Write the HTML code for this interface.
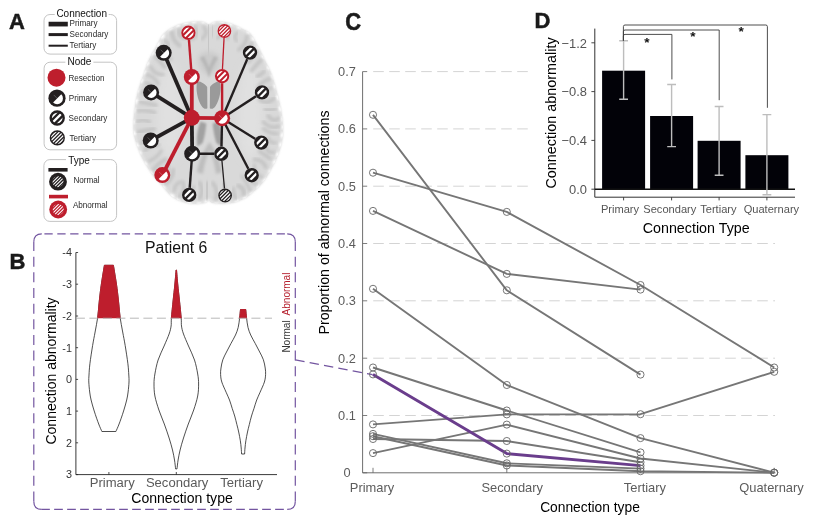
<!DOCTYPE html>
<html lang="en"><head><meta charset="utf-8"><title>Figure</title>
<style>html,body{margin:0;padding:0;background:#fff}body{width:826px;height:524px;overflow:hidden}svg{display:block;will-change:transform;transform:translateZ(0)}text{font-family:"Liberation Sans", Arial, Helvetica, sans-serif}.g{fill:#5a5a5a}.k{fill:#000}</style></head><body>
<svg width="826" height="524" viewBox="0 0 826 524">
<defs>
<filter id="b0" x="-5%" y="-5%" width="110%" height="110%"><feGaussianBlur stdDeviation="0.9"/></filter>
<filter id="b05" x="-20%" y="-20%" width="140%" height="140%"><feGaussianBlur stdDeviation="0.6"/></filter>
<filter id="b15" x="-30%" y="-30%" width="160%" height="160%"><feGaussianBlur stdDeviation="1.5"/></filter>
<filter id="b1" x="-20%" y="-20%" width="140%" height="140%"><feGaussianBlur stdDeviation="1.2"/></filter>
<filter id="b2" x="-20%" y="-20%" width="140%" height="140%"><feGaussianBlur stdDeviation="2.5"/></filter>
<filter id="b3" x="-20%" y="-20%" width="140%" height="140%"><feGaussianBlur stdDeviation="4"/></filter>
</defs>
<rect x="44.0" y="14.5" width="72.6" height="39.6" rx="6" ry="6" fill="none" stroke="#bdbdbd" stroke-width="0.9"/>
<rect x="54.7" y="12.5" width="54.0" height="4" fill="#fff"/>
<text x="81.7" y="16.9" font-size="10.00" text-anchor="middle" fill="#111" >Connection</text>
<line x1="48.6" y1="24.1" x2="67.8" y2="24.1" stroke="#231f20" stroke-width="4.7"/>
<line x1="48.6" y1="34.6" x2="67.8" y2="34.6" stroke="#231f20" stroke-width="3.0"/>
<line x1="48.6" y1="45.7" x2="67.8" y2="45.7" stroke="#231f20" stroke-width="2.0"/>
<text x="69.6" y="26.4" font-size="8.15" text-anchor="start" fill="#2a2a2a" >Primary</text>
<text x="69.6" y="37.2" font-size="8.15" text-anchor="start" fill="#2a2a2a" >Secondary</text>
<text x="69.6" y="48.3" font-size="8.15" text-anchor="start" fill="#2a2a2a" >Tertiary</text>
<rect x="44.1" y="62.2" width="72.5" height="87.6" rx="6" ry="6" fill="none" stroke="#bdbdbd" stroke-width="0.9"/>
<rect x="65.4" y="60.2" width="28.0" height="4" fill="#fff"/>
<text x="79.4" y="65.1" font-size="10.00" text-anchor="middle" fill="#111" >Node</text>
<circle cx="56.5" cy="77.7" r="9.00" fill="#be1e2d"/>
<circle cx="57.0" cy="98.2" r="8.60" fill="#231f20"/>
<path d="M61.25 94.30 A5.76 5.76 0 0 1 53.10 102.45 Z" fill="#fff"/>
<line x1="57.17" y1="98.37" x2="53.73" y2="94.93" stroke="#fff" stroke-width="0.4" stroke-opacity="0.6"/>
<circle cx="57.2" cy="118.0" r="7.70" fill="#fff"/>
<clipPath id="c3"><circle cx="57.2" cy="118.0" r="6.50"/></clipPath>
<g clip-path="url(#c3)" stroke="#231f20" stroke-width="2.35">
<line x1="37.34" y1="121.24" x2="60.44" y2="98.14"/>
<line x1="40.66" y1="124.56" x2="63.76" y2="101.46"/>
<line x1="43.99" y1="127.89" x2="67.09" y2="104.79"/>
<line x1="47.31" y1="131.21" x2="70.41" y2="108.11"/>
<line x1="50.64" y1="134.54" x2="73.74" y2="111.44"/>
<line x1="53.96" y1="137.86" x2="77.06" y2="114.76"/>
<line x1="57.28" y1="141.18" x2="80.38" y2="118.08"/>
</g>
<circle cx="57.2" cy="118.0" r="6.50" fill="none" stroke="#231f20" stroke-width="2.40"/>
<circle cx="57.3" cy="137.9" r="7.60" fill="#fff"/>
<clipPath id="c4"><circle cx="57.3" cy="137.9" r="6.90"/></clipPath>
<g clip-path="url(#c4)" stroke="#231f20" stroke-width="1.30">
<line x1="39.47" y1="142.87" x2="62.27" y2="120.07"/>
<line x1="41.30" y1="144.70" x2="64.10" y2="121.90"/>
<line x1="43.14" y1="146.54" x2="65.94" y2="123.74"/>
<line x1="44.98" y1="148.38" x2="67.78" y2="125.58"/>
<line x1="46.82" y1="150.22" x2="69.62" y2="127.42"/>
<line x1="48.66" y1="152.06" x2="71.46" y2="129.26"/>
<line x1="50.50" y1="153.90" x2="73.30" y2="131.10"/>
<line x1="52.33" y1="155.73" x2="75.13" y2="132.93"/>
<line x1="54.17" y1="157.57" x2="76.97" y2="134.77"/>
</g>
<circle cx="57.3" cy="137.9" r="6.90" fill="none" stroke="#231f20" stroke-width="1.40"/>
<text x="68.4" y="80.5" font-size="8.15" text-anchor="start" fill="#2a2a2a" >Resection</text>
<text x="68.8" y="101.3" font-size="8.15" text-anchor="start" fill="#2a2a2a" >Primary</text>
<text x="68.6" y="121.2" font-size="8.15" text-anchor="start" fill="#2a2a2a" >Secondary</text>
<text x="69.4" y="141.2" font-size="8.15" text-anchor="start" fill="#2a2a2a" >Tertiary</text>
<rect x="43.9" y="159.6" width="72.7" height="61.8" rx="6" ry="6" fill="none" stroke="#bdbdbd" stroke-width="0.9"/>
<rect x="66.0" y="157.6" width="26.0" height="4" fill="#fff"/>
<text x="79.0" y="163.6" font-size="10.00" text-anchor="middle" fill="#111" >Type</text>
<line x1="48.4" y1="169.8" x2="67.6" y2="169.8" stroke="#231f20" stroke-width="3.6"/>
<line x1="49.0" y1="196.6" x2="68.0" y2="196.6" stroke="#be1e2d" stroke-width="3.6"/>
<circle cx="58.0" cy="181.7" r="8.90" fill="#231f20"/>
<clipPath id="ty1"><circle cx="58.0" cy="181.7" r="5.50"/></clipPath>
<g clip-path="url(#ty1)" stroke="#fff" stroke-width="1.05">
<line x1="38.52" y1="186.22" x2="62.52" y2="162.22"/>
<line x1="40.18" y1="187.88" x2="64.18" y2="163.88"/>
<line x1="41.85" y1="189.55" x2="65.85" y2="165.55"/>
<line x1="43.51" y1="191.21" x2="67.51" y2="167.21"/>
<line x1="45.17" y1="192.87" x2="69.17" y2="168.87"/>
<line x1="46.83" y1="194.53" x2="70.83" y2="170.53"/>
<line x1="48.49" y1="196.19" x2="72.49" y2="172.19"/>
<line x1="50.15" y1="197.85" x2="74.15" y2="173.85"/>
<line x1="51.82" y1="199.52" x2="75.82" y2="175.52"/>
<line x1="53.48" y1="201.18" x2="77.48" y2="177.18"/>
<line x1="55.14" y1="202.84" x2="79.14" y2="178.84"/>
</g>
<circle cx="58.2" cy="209.5" r="8.90" fill="#be1e2d"/>
<clipPath id="ty2"><circle cx="58.2" cy="209.5" r="5.50"/></clipPath>
<g clip-path="url(#ty2)" stroke="#fff" stroke-width="1.05">
<line x1="38.72" y1="214.02" x2="62.72" y2="190.02"/>
<line x1="40.38" y1="215.68" x2="64.38" y2="191.68"/>
<line x1="42.05" y1="217.35" x2="66.05" y2="193.35"/>
<line x1="43.71" y1="219.01" x2="67.71" y2="195.01"/>
<line x1="45.37" y1="220.67" x2="69.37" y2="196.67"/>
<line x1="47.03" y1="222.33" x2="71.03" y2="198.33"/>
<line x1="48.69" y1="223.99" x2="72.69" y2="199.99"/>
<line x1="50.35" y1="225.65" x2="74.35" y2="201.65"/>
<line x1="52.02" y1="227.32" x2="76.02" y2="203.32"/>
<line x1="53.68" y1="228.98" x2="77.68" y2="204.98"/>
<line x1="55.34" y1="230.64" x2="79.34" y2="206.64"/>
</g>
<text x="73.4" y="182.6" font-size="8.15" text-anchor="start" fill="#2a2a2a" >Normal</text>
<text x="72.9" y="207.9" font-size="8.15" text-anchor="start" fill="#2a2a2a" >Abnormal</text>
<clipPath id="brainclip"><path d="M208.90 24.60 C210.30 24.60 211.18 22.90 213.00 22.40 C214.82 21.90 216.80 21.37 219.80 21.60 C222.80 21.83 227.47 22.70 231.00 23.80 C234.53 24.90 237.78 26.53 241.00 28.20 C244.22 29.87 247.42 30.67 250.30 33.80 C253.18 36.93 255.88 42.60 258.30 47.00 C260.72 51.40 262.58 55.63 264.80 60.20 C267.02 64.77 269.53 68.87 271.60 74.40 C273.67 79.93 275.53 86.88 277.20 93.40 C278.87 99.92 280.63 107.40 281.60 113.50 C282.57 119.60 283.00 125.08 283.00 130.00 C283.00 134.92 282.73 138.12 281.60 143.00 C280.47 147.88 278.63 153.72 276.20 159.30 C273.77 164.88 269.62 172.22 267.00 176.50 C264.38 180.78 262.92 182.32 260.50 185.00 C258.08 187.68 255.17 190.33 252.50 192.60 C249.83 194.87 247.42 197.00 244.50 198.60 C241.58 200.20 238.15 201.33 235.00 202.20 C231.85 203.07 228.77 203.57 225.60 203.80 C222.43 204.03 218.37 203.80 216.00 203.60 C213.63 203.40 212.63 203.17 211.40 202.60 C210.17 202.03 209.53 200.20 208.60 200.20 C207.67 200.20 207.23 202.03 205.80 202.60 C204.37 203.17 202.03 203.40 200.00 203.60 C197.97 203.80 196.10 204.00 193.60 203.80 C191.10 203.60 187.90 203.15 185.00 202.40 C182.10 201.65 178.95 200.83 176.20 199.30 C173.45 197.77 170.93 195.58 168.50 193.20 C166.07 190.82 164.05 187.78 161.60 185.00 C159.15 182.22 156.92 180.78 153.80 176.50 C150.68 172.22 145.87 165.02 142.90 159.30 C139.93 153.58 137.55 147.08 136.00 142.20 C134.45 137.32 133.90 134.78 133.60 130.00 C133.30 125.22 133.53 119.67 134.20 113.50 C134.87 107.33 136.00 99.58 137.60 93.00 C139.20 86.42 142.00 79.33 143.80 74.00 C145.60 68.67 146.37 65.50 148.40 61.00 C150.43 56.50 153.43 51.53 156.00 47.00 C158.57 42.47 160.50 37.30 163.80 33.80 C167.10 30.30 171.77 27.90 175.80 26.00 C179.83 24.10 184.30 23.13 188.00 22.40 C191.70 21.67 195.23 21.60 198.00 21.60 C200.77 21.60 202.78 21.90 204.60 22.40 C206.42 22.90 207.50 24.60 208.90 24.60 Z"/></clipPath>
<path d="M208.90 24.60 C210.30 24.60 211.18 22.90 213.00 22.40 C214.82 21.90 216.80 21.37 219.80 21.60 C222.80 21.83 227.47 22.70 231.00 23.80 C234.53 24.90 237.78 26.53 241.00 28.20 C244.22 29.87 247.42 30.67 250.30 33.80 C253.18 36.93 255.88 42.60 258.30 47.00 C260.72 51.40 262.58 55.63 264.80 60.20 C267.02 64.77 269.53 68.87 271.60 74.40 C273.67 79.93 275.53 86.88 277.20 93.40 C278.87 99.92 280.63 107.40 281.60 113.50 C282.57 119.60 283.00 125.08 283.00 130.00 C283.00 134.92 282.73 138.12 281.60 143.00 C280.47 147.88 278.63 153.72 276.20 159.30 C273.77 164.88 269.62 172.22 267.00 176.50 C264.38 180.78 262.92 182.32 260.50 185.00 C258.08 187.68 255.17 190.33 252.50 192.60 C249.83 194.87 247.42 197.00 244.50 198.60 C241.58 200.20 238.15 201.33 235.00 202.20 C231.85 203.07 228.77 203.57 225.60 203.80 C222.43 204.03 218.37 203.80 216.00 203.60 C213.63 203.40 212.63 203.17 211.40 202.60 C210.17 202.03 209.53 200.20 208.60 200.20 C207.67 200.20 207.23 202.03 205.80 202.60 C204.37 203.17 202.03 203.40 200.00 203.60 C197.97 203.80 196.10 204.00 193.60 203.80 C191.10 203.60 187.90 203.15 185.00 202.40 C182.10 201.65 178.95 200.83 176.20 199.30 C173.45 197.77 170.93 195.58 168.50 193.20 C166.07 190.82 164.05 187.78 161.60 185.00 C159.15 182.22 156.92 180.78 153.80 176.50 C150.68 172.22 145.87 165.02 142.90 159.30 C139.93 153.58 137.55 147.08 136.00 142.20 C134.45 137.32 133.90 134.78 133.60 130.00 C133.30 125.22 133.53 119.67 134.20 113.50 C134.87 107.33 136.00 99.58 137.60 93.00 C139.20 86.42 142.00 79.33 143.80 74.00 C145.60 68.67 146.37 65.50 148.40 61.00 C150.43 56.50 153.43 51.53 156.00 47.00 C158.57 42.47 160.50 37.30 163.80 33.80 C167.10 30.30 171.77 27.90 175.80 26.00 C179.83 24.10 184.30 23.13 188.00 22.40 C191.70 21.67 195.23 21.60 198.00 21.60 C200.77 21.60 202.78 21.90 204.60 22.40 C206.42 22.90 207.50 24.60 208.90 24.60 Z" fill="#d9d9d9" filter="url(#b0)"/>
<g clip-path="url(#brainclip)">
<path d="M208.90 24.60 C210.30 24.60 211.18 22.90 213.00 22.40 C214.82 21.90 216.80 21.37 219.80 21.60 C222.80 21.83 227.47 22.70 231.00 23.80 C234.53 24.90 237.78 26.53 241.00 28.20 C244.22 29.87 247.42 30.67 250.30 33.80 C253.18 36.93 255.88 42.60 258.30 47.00 C260.72 51.40 262.58 55.63 264.80 60.20 C267.02 64.77 269.53 68.87 271.60 74.40 C273.67 79.93 275.53 86.88 277.20 93.40 C278.87 99.92 280.63 107.40 281.60 113.50 C282.57 119.60 283.00 125.08 283.00 130.00 C283.00 134.92 282.73 138.12 281.60 143.00 C280.47 147.88 278.63 153.72 276.20 159.30 C273.77 164.88 269.62 172.22 267.00 176.50 C264.38 180.78 262.92 182.32 260.50 185.00 C258.08 187.68 255.17 190.33 252.50 192.60 C249.83 194.87 247.42 197.00 244.50 198.60 C241.58 200.20 238.15 201.33 235.00 202.20 C231.85 203.07 228.77 203.57 225.60 203.80 C222.43 204.03 218.37 203.80 216.00 203.60 C213.63 203.40 212.63 203.17 211.40 202.60 C210.17 202.03 209.53 200.20 208.60 200.20 C207.67 200.20 207.23 202.03 205.80 202.60 C204.37 203.17 202.03 203.40 200.00 203.60 C197.97 203.80 196.10 204.00 193.60 203.80 C191.10 203.60 187.90 203.15 185.00 202.40 C182.10 201.65 178.95 200.83 176.20 199.30 C173.45 197.77 170.93 195.58 168.50 193.20 C166.07 190.82 164.05 187.78 161.60 185.00 C159.15 182.22 156.92 180.78 153.80 176.50 C150.68 172.22 145.87 165.02 142.90 159.30 C139.93 153.58 137.55 147.08 136.00 142.20 C134.45 137.32 133.90 134.78 133.60 130.00 C133.30 125.22 133.53 119.67 134.20 113.50 C134.87 107.33 136.00 99.58 137.60 93.00 C139.20 86.42 142.00 79.33 143.80 74.00 C145.60 68.67 146.37 65.50 148.40 61.00 C150.43 56.50 153.43 51.53 156.00 47.00 C158.57 42.47 160.50 37.30 163.80 33.80 C167.10 30.30 171.77 27.90 175.80 26.00 C179.83 24.10 184.30 23.13 188.00 22.40 C191.70 21.67 195.23 21.60 198.00 21.60 C200.77 21.60 202.78 21.90 204.60 22.40 C206.42 22.90 207.50 24.60 208.90 24.60 Z" fill="none" stroke="#e3e3e3" stroke-width="4" filter="url(#b1)"/>
<ellipse cx="170" cy="112" rx="13" ry="48" fill="#e0e0e0" filter="url(#b3)"/>
<ellipse cx="250" cy="112" rx="13" ry="48" fill="#e0e0e0" filter="url(#b3)"/>
<circle cx="213.0" cy="21.8" r="1.9" fill="#fff" filter="url(#b1)"/>
<path d="M212.8 27.4 Q212.3 31.6 212.7 36.0" fill="none" stroke="#c4c4c4" stroke-width="3.3" stroke-linecap="round" filter="url(#b15)"/>
<circle cx="221.9" cy="21.4" r="2.2" fill="#fff" filter="url(#b1)"/>
<path d="M221.4 25.1 Q224.9 32.3 217.6 38.1" fill="none" stroke="#c4c4c4" stroke-width="2.9" stroke-linecap="round" filter="url(#b15)"/>
<circle cx="230.1" cy="23.0" r="2.5" fill="#fff" filter="url(#b1)"/>
<path d="M229.3 26.9 Q226.8 32.2 227.5 38.2" fill="none" stroke="#c4c4c4" stroke-width="4.1" stroke-linecap="round" filter="url(#b15)"/>
<circle cx="239.2" cy="26.7" r="2.1" fill="#fff" filter="url(#b1)"/>
<path d="M237.2 33.0 Q232.6 35.4 236.5 40.6" fill="none" stroke="#c4c4c4" stroke-width="3.2" stroke-linecap="round" filter="url(#b15)"/>
<circle cx="248.7" cy="32.1" r="1.9" fill="#fff" filter="url(#b1)"/>
<path d="M246.8 36.2 Q246.4 44.7 238.8 49.7" fill="none" stroke="#c4c4c4" stroke-width="3.6" stroke-linecap="round" filter="url(#b15)"/>
<circle cx="253.8" cy="38.6" r="2.1" fill="#fff" filter="url(#b1)"/>
<path d="M251.2 43.1 Q252.9 49.1 244.9 49.7" fill="none" stroke="#c4c4c4" stroke-width="3.1" stroke-linecap="round" filter="url(#b15)"/>
<circle cx="259.1" cy="47.5" r="2.1" fill="#fff" filter="url(#b1)"/>
<path d="M256.5 51.1 Q252.8 57.0 248.3 62.2" fill="none" stroke="#c4c4c4" stroke-width="3.2" stroke-linecap="round" filter="url(#b15)"/>
<circle cx="263.8" cy="56.9" r="2.4" fill="#fff" filter="url(#b1)"/>
<path d="M260.9 60.1 Q256.0 65.1 251.7 70.5" fill="none" stroke="#c4c4c4" stroke-width="4.0" stroke-linecap="round" filter="url(#b15)"/>
<circle cx="268.9" cy="67.4" r="2.0" fill="#fff" filter="url(#b1)"/>
<path d="M263.8 71.6 Q261.3 74.7 257.4 76.3" fill="none" stroke="#c4c4c4" stroke-width="3.9" stroke-linecap="round" filter="url(#b15)"/>
<circle cx="273.0" cy="77.1" r="2.2" fill="#fff" filter="url(#b1)"/>
<path d="M269.8 79.0 Q262.0 80.8 257.6 88.2" fill="none" stroke="#c4c4c4" stroke-width="3.6" stroke-linecap="round" filter="url(#b15)"/>
<circle cx="275.7" cy="86.2" r="2.1" fill="#fff" filter="url(#b1)"/>
<path d="M270.5 88.5 Q264.4 90.4 259.1 94.1" fill="none" stroke="#c4c4c4" stroke-width="3.4" stroke-linecap="round" filter="url(#b15)"/>
<circle cx="278.7" cy="97.3" r="2.6" fill="#fff" filter="url(#b1)"/>
<path d="M273.8 98.6 Q268.3 104.7 259.8 100.1" fill="none" stroke="#c4c4c4" stroke-width="3.8" stroke-linecap="round" filter="url(#b15)"/>
<circle cx="281.1" cy="108.4" r="2.6" fill="#fff" filter="url(#b1)"/>
<path d="M275.1 109.1 Q270.3 110.7 265.2 109.5" fill="none" stroke="#c4c4c4" stroke-width="3.7" stroke-linecap="round" filter="url(#b15)"/>
<circle cx="282.6" cy="118.7" r="2.2" fill="#fff" filter="url(#b1)"/>
<path d="M278.5 118.5 Q273.2 122.7 268.2 115.9" fill="none" stroke="#c4c4c4" stroke-width="3.9" stroke-linecap="round" filter="url(#b15)"/>
<circle cx="283.3" cy="127.0" r="2.0" fill="#fff" filter="url(#b1)"/>
<path d="M278.6 126.3 Q270.2 129.3 263.3 121.9" fill="none" stroke="#c4c4c4" stroke-width="3.4" stroke-linecap="round" filter="url(#b15)"/>
<circle cx="283.0" cy="135.2" r="2.5" fill="#fff" filter="url(#b1)"/>
<path d="M277.2 133.6 Q269.6 133.9 263.5 128.9" fill="none" stroke="#c4c4c4" stroke-width="3.4" stroke-linecap="round" filter="url(#b15)"/>
<circle cx="281.5" cy="145.1" r="2.5" fill="#fff" filter="url(#b1)"/>
<path d="M275.5 142.7 Q270.4 144.1 268.4 138.1" fill="none" stroke="#c4c4c4" stroke-width="3.1" stroke-linecap="round" filter="url(#b15)"/>
<circle cx="278.3" cy="154.8" r="2.2" fill="#fff" filter="url(#b1)"/>
<path d="M273.6 152.2 Q266.7 153.9 265.9 144.9" fill="none" stroke="#c4c4c4" stroke-width="3.4" stroke-linecap="round" filter="url(#b15)"/>
<circle cx="275.2" cy="162.4" r="2.3" fill="#fff" filter="url(#b1)"/>
<path d="M270.0 158.6 Q264.9 154.8 259.6 151.3" fill="none" stroke="#c4c4c4" stroke-width="3.7" stroke-linecap="round" filter="url(#b15)"/>
<circle cx="270.3" cy="171.5" r="1.8" fill="#fff" filter="url(#b1)"/>
<path d="M265.7 167.2 Q263.3 159.9 254.5 159.4" fill="none" stroke="#c4c4c4" stroke-width="3.9" stroke-linecap="round" filter="url(#b15)"/>
<circle cx="264.8" cy="180.4" r="2.1" fill="#fff" filter="url(#b1)"/>
<path d="M262.3 177.4 Q254.1 174.6 254.4 164.7" fill="none" stroke="#c4c4c4" stroke-width="2.9" stroke-linecap="round" filter="url(#b15)"/>
<circle cx="258.7" cy="187.6" r="1.9" fill="#fff" filter="url(#b1)"/>
<path d="M256.1 183.7 Q249.3 182.7 252.8 174.6" fill="none" stroke="#c4c4c4" stroke-width="3.0" stroke-linecap="round" filter="url(#b15)"/>
<circle cx="252.0" cy="193.7" r="2.1" fill="#fff" filter="url(#b1)"/>
<path d="M250.2 190.5 Q247.2 182.5 241.7 175.9" fill="none" stroke="#c4c4c4" stroke-width="3.0" stroke-linecap="round" filter="url(#b15)"/>
<circle cx="245.5" cy="198.6" r="2.1" fill="#fff" filter="url(#b1)"/>
<path d="M243.7 194.2 Q244.9 188.3 238.2 185.8" fill="none" stroke="#c4c4c4" stroke-width="4.2" stroke-linecap="round" filter="url(#b15)"/>
<circle cx="237.1" cy="202.1" r="2.2" fill="#fff" filter="url(#b1)"/>
<path d="M235.9 198.4 Q232.8 193.8 233.5 188.1" fill="none" stroke="#c4c4c4" stroke-width="3.2" stroke-linecap="round" filter="url(#b15)"/>
<circle cx="227.8" cy="204.0" r="1.9" fill="#fff" filter="url(#b1)"/>
<path d="M227.1 200.4 Q225.6 191.8 223.5 183.3" fill="none" stroke="#c4c4c4" stroke-width="3.0" stroke-linecap="round" filter="url(#b15)"/>
<circle cx="216.0" cy="204.2" r="1.8" fill="#fff" filter="url(#b1)"/>
<path d="M215.7 199.0 Q218.8 190.7 212.8 182.9" fill="none" stroke="#c4c4c4" stroke-width="3.8" stroke-linecap="round" filter="url(#b15)"/>
<circle cx="206.7" cy="202.4" r="2.1" fill="#fff" filter="url(#b1)"/>
<path d="M206.9 198.3 Q207.5 190.5 207.3 182.6" fill="none" stroke="#c4c4c4" stroke-width="3.9" stroke-linecap="round" filter="url(#b15)"/>
<circle cx="198.9" cy="204.2" r="2.0" fill="#fff" filter="url(#b1)"/>
<path d="M199.6 198.2 Q204.1 191.0 199.8 182.7" fill="none" stroke="#c4c4c4" stroke-width="3.9" stroke-linecap="round" filter="url(#b15)"/>
<circle cx="189.2" cy="203.7" r="2.4" fill="#fff" filter="url(#b1)"/>
<path d="M190.2 199.5 Q190.3 192.6 194.0 186.6" fill="none" stroke="#c4c4c4" stroke-width="2.8" stroke-linecap="round" filter="url(#b15)"/>
<circle cx="177.9" cy="200.5" r="2.0" fill="#fff" filter="url(#b1)"/>
<path d="M179.5 196.5 Q186.4 191.2 182.6 181.8" fill="none" stroke="#c4c4c4" stroke-width="3.4" stroke-linecap="round" filter="url(#b15)"/>
<circle cx="171.7" cy="196.5" r="2.6" fill="#fff" filter="url(#b1)"/>
<path d="M174.4 190.6 Q174.1 184.9 180.0 182.1" fill="none" stroke="#c4c4c4" stroke-width="3.1" stroke-linecap="round" filter="url(#b15)"/>
<circle cx="163.3" cy="188.0" r="2.0" fill="#fff" filter="url(#b1)"/>
<path d="M166.3 183.4 Q173.3 178.8 173.2 169.6" fill="none" stroke="#c4c4c4" stroke-width="3.5" stroke-linecap="round" filter="url(#b15)"/>
<circle cx="157.7" cy="181.6" r="2.4" fill="#fff" filter="url(#b1)"/>
<path d="M160.1 178.6 Q168.0 175.3 167.9 165.6" fill="none" stroke="#c4c4c4" stroke-width="3.9" stroke-linecap="round" filter="url(#b15)"/>
<circle cx="150.6" cy="172.6" r="2.2" fill="#fff" filter="url(#b1)"/>
<path d="M153.6 169.8 Q158.2 163.1 165.6 159.5" fill="none" stroke="#c4c4c4" stroke-width="3.9" stroke-linecap="round" filter="url(#b15)"/>
<circle cx="145.1" cy="164.0" r="2.1" fill="#fff" filter="url(#b1)"/>
<path d="M149.0 161.1 Q156.9 158.0 161.5 150.5" fill="none" stroke="#c4c4c4" stroke-width="3.0" stroke-linecap="round" filter="url(#b15)"/>
<circle cx="139.7" cy="152.9" r="1.9" fill="#fff" filter="url(#b1)"/>
<path d="M145.3 150.0 Q149.7 143.7 158.3 145.2" fill="none" stroke="#c4c4c4" stroke-width="4.0" stroke-linecap="round" filter="url(#b15)"/>
<circle cx="136.6" cy="145.3" r="2.3" fill="#fff" filter="url(#b1)"/>
<path d="M140.9 143.5 Q145.7 137.7 154.0 140.3" fill="none" stroke="#c4c4c4" stroke-width="2.8" stroke-linecap="round" filter="url(#b15)"/>
<circle cx="133.6" cy="133.2" r="2.3" fill="#fff" filter="url(#b1)"/>
<path d="M138.7 132.0 Q146.3 129.7 154.2 128.9" fill="none" stroke="#c4c4c4" stroke-width="4.0" stroke-linecap="round" filter="url(#b15)"/>
<circle cx="133.3" cy="121.8" r="2.0" fill="#fff" filter="url(#b1)"/>
<path d="M137.6 121.5 Q143.2 118.4 149.3 121.9" fill="none" stroke="#c4c4c4" stroke-width="3.6" stroke-linecap="round" filter="url(#b15)"/>
<circle cx="134.1" cy="110.4" r="2.1" fill="#fff" filter="url(#b1)"/>
<path d="M138.1 110.7 Q146.6 109.8 154.9 112.7" fill="none" stroke="#c4c4c4" stroke-width="3.4" stroke-linecap="round" filter="url(#b15)"/>
<circle cx="135.7" cy="101.1" r="2.5" fill="#fff" filter="url(#b1)"/>
<path d="M140.4 102.0 Q148.3 103.6 156.2 105.2" fill="none" stroke="#c4c4c4" stroke-width="3.5" stroke-linecap="round" filter="url(#b15)"/>
<circle cx="137.7" cy="90.8" r="1.8" fill="#fff" filter="url(#b1)"/>
<path d="M142.3 92.4 Q148.8 89.4 151.1 98.1" fill="none" stroke="#c4c4c4" stroke-width="3.9" stroke-linecap="round" filter="url(#b15)"/>
<circle cx="141.0" cy="80.7" r="2.2" fill="#fff" filter="url(#b1)"/>
<path d="M146.1 83.4 Q152.4 84.6 156.7 89.7" fill="none" stroke="#c4c4c4" stroke-width="3.5" stroke-linecap="round" filter="url(#b15)"/>
<circle cx="143.7" cy="72.7" r="2.4" fill="#fff" filter="url(#b1)"/>
<path d="M146.9 74.8 Q154.2 76.6 158.1 83.6" fill="none" stroke="#c4c4c4" stroke-width="3.2" stroke-linecap="round" filter="url(#b15)"/>
<circle cx="146.9" cy="63.6" r="2.2" fill="#fff" filter="url(#b1)"/>
<path d="M150.9 67.0 Q153.8 74.8 163.3 74.6" fill="none" stroke="#c4c4c4" stroke-width="3.4" stroke-linecap="round" filter="url(#b15)"/>
<circle cx="152.0" cy="53.1" r="2.2" fill="#fff" filter="url(#b1)"/>
<path d="M155.5 56.9 Q160.6 61.7 164.8 67.3" fill="none" stroke="#c4c4c4" stroke-width="3.5" stroke-linecap="round" filter="url(#b15)"/>
<circle cx="157.2" cy="43.9" r="2.6" fill="#fff" filter="url(#b1)"/>
<path d="M160.6 48.5 Q161.4 57.1 171.2 59.2" fill="none" stroke="#c4c4c4" stroke-width="3.2" stroke-linecap="round" filter="url(#b15)"/>
<circle cx="161.9" cy="35.9" r="2.6" fill="#fff" filter="url(#b1)"/>
<path d="M165.1 41.2 Q170.5 42.9 167.9 49.5" fill="none" stroke="#c4c4c4" stroke-width="3.4" stroke-linecap="round" filter="url(#b15)"/>
<circle cx="170.4" cy="28.8" r="2.0" fill="#fff" filter="url(#b1)"/>
<path d="M172.0 32.3 Q172.5 40.3 179.5 45.5" fill="none" stroke="#c4c4c4" stroke-width="4.1" stroke-linecap="round" filter="url(#b15)"/>
<circle cx="177.6" cy="24.8" r="2.4" fill="#fff" filter="url(#b1)"/>
<path d="M179.5 30.1 Q177.4 35.7 184.4 38.1" fill="none" stroke="#c4c4c4" stroke-width="4.2" stroke-linecap="round" filter="url(#b15)"/>
<circle cx="185.8" cy="22.4" r="2.6" fill="#fff" filter="url(#b1)"/>
<path d="M187.0 27.1 Q183.9 34.4 192.6 38.7" fill="none" stroke="#c4c4c4" stroke-width="4.0" stroke-linecap="round" filter="url(#b15)"/>
<circle cx="193.9" cy="21.3" r="2.1" fill="#fff" filter="url(#b1)"/>
<path d="M194.8 26.4 Q198.7 31.4 195.1 37.7" fill="none" stroke="#c4c4c4" stroke-width="3.2" stroke-linecap="round" filter="url(#b15)"/>
<circle cx="203.5" cy="21.7" r="1.8" fill="#fff" filter="url(#b1)"/>
<path d="M203.8 26.9 Q209.0 32.5 202.2 38.9" fill="none" stroke="#c4c4c4" stroke-width="3.3" stroke-linecap="round" filter="url(#b15)"/>
<path d="M208.9 22 L208.8 58" stroke="#bcbcbc" stroke-width="2.2" filter="url(#b1)"/>
<path d="M208.6 168 L208.6 204" stroke="#c0c0c0" stroke-width="2.2" filter="url(#b1)"/>
<path d="M199 56 C203 50 215 50 219 56 C222 64 216 74 209 75 C202 74 196 64 199 56 Z" fill="#cbcbcb" filter="url(#b2)"/>
<path d="M197.2 81.4 C200.5 81.0 205.4 84.4 207.2 87.0 L207.4 108.2 C205.6 109.6 203.2 108.6 201.6 106.0 C197.4 99.6 195.4 88.6 197.2 81.4 Z" fill="#9a9a9a" filter="url(#b05)"/>
<path d="M220.0 81.4 C216.7 81.0 211.8 84.4 210.0 87.0 L209.8 108.2 C211.6 109.6 214.0 108.6 215.6 106.0 C219.8 99.6 221.8 88.6 220.0 81.4 Z" fill="#9a9a9a" filter="url(#b05)"/>
<path d="M200.4 121.5 L206.4 123.5 C205.6 131 204.4 138 202.6 143 L197.4 146.5 C196 139 197.4 129 200.4 121.5 Z" fill="#a2a2a2" filter="url(#b1)"/>
<path d="M218.6 121.5 L212.6 123.5 C213.4 131 214.6 138 216.4 143 L221.6 146.5 C223 139 221.6 129 218.6 121.5 Z" fill="#a2a2a2" filter="url(#b1)"/>
<path d="M209.6 142 C204 150 199 160 197 172 L203 174 C204 164 207 156 209.6 150 C212 156 215 164 216 174 L222 172 C220 160 215 150 209.6 142 Z" fill="#bdbdbd" filter="url(#b15)"/>
<path d="M200 58 C204 64 207 70 209 78 C211 70 214 64 218 58 L214 56 C212 60 210 64 209 68 C208 64 206 60 204 56 Z" fill="#b8b8b8" filter="url(#b1)"/>
</g>
<line x1="191.8" y1="117.8" x2="163.7" y2="52.8" stroke="#231f20" stroke-width="3.80"/>
<line x1="191.8" y1="117.8" x2="151.1" y2="92.4" stroke="#231f20" stroke-width="3.80"/>
<line x1="191.8" y1="117.8" x2="150.7" y2="140.5" stroke="#231f20" stroke-width="3.80"/>
<line x1="191.8" y1="117.8" x2="192.2" y2="153.7" stroke="#231f20" stroke-width="3.80"/>
<line x1="222.1" y1="118.2" x2="250.0" y2="52.6" stroke="#231f20" stroke-width="2.40"/>
<line x1="222.1" y1="118.2" x2="262.0" y2="92.4" stroke="#231f20" stroke-width="2.40"/>
<line x1="222.1" y1="118.2" x2="261.3" y2="142.6" stroke="#231f20" stroke-width="2.40"/>
<line x1="222.1" y1="118.2" x2="251.7" y2="175.2" stroke="#231f20" stroke-width="2.40"/>
<line x1="222.1" y1="118.2" x2="221.3" y2="153.8" stroke="#231f20" stroke-width="2.40"/>
<line x1="192.2" y1="153.7" x2="221.3" y2="153.8" stroke="#231f20" stroke-width="2.40"/>
<line x1="192.2" y1="153.7" x2="189.2" y2="194.9" stroke="#231f20" stroke-width="2.40"/>
<line x1="221.3" y1="153.8" x2="225.1" y2="195.5" stroke="#231f20" stroke-width="1.30"/>
<line x1="191.8" y1="117.8" x2="162.3" y2="175.1" stroke="#be1e2d" stroke-width="3.80"/>
<line x1="191.8" y1="117.8" x2="191.8" y2="77.0" stroke="#be1e2d" stroke-width="3.80"/>
<line x1="191.8" y1="117.8" x2="222.1" y2="118.2" stroke="#be1e2d" stroke-width="3.80"/>
<line x1="191.8" y1="77.0" x2="188.4" y2="32.8" stroke="#be1e2d" stroke-width="2.40"/>
<line x1="222.1" y1="118.2" x2="222.1" y2="76.1" stroke="#be1e2d" stroke-width="2.40"/>
<line x1="222.1" y1="76.1" x2="224.4" y2="31.0" stroke="#be1e2d" stroke-width="1.30"/>
<circle cx="188.4" cy="32.8" r="7.20" fill="#fff"/>
<clipPath id="c5"><circle cx="188.4" cy="32.8" r="6.20"/></clipPath>
<g clip-path="url(#c5)" stroke="#be1e2d" stroke-width="2.05">
<line x1="170.35" y1="36.35" x2="191.95" y2="14.75"/>
<line x1="173.25" y1="39.25" x2="194.85" y2="17.65"/>
<line x1="176.15" y1="42.15" x2="197.75" y2="20.55"/>
<line x1="179.05" y1="45.05" x2="200.65" y2="23.45"/>
<line x1="181.95" y1="47.95" x2="203.55" y2="26.35"/>
<line x1="184.85" y1="50.85" x2="206.45" y2="29.25"/>
<line x1="187.75" y1="53.75" x2="209.35" y2="32.15"/>
</g>
<circle cx="188.4" cy="32.8" r="6.20" fill="none" stroke="#be1e2d" stroke-width="2.00"/>
<circle cx="224.4" cy="31.0" r="6.90" fill="#fff"/>
<clipPath id="c6"><circle cx="224.4" cy="31.0" r="6.20"/></clipPath>
<g clip-path="url(#c6)" stroke="#be1e2d" stroke-width="1.30">
<line x1="207.62" y1="34.92" x2="228.32" y2="14.22"/>
<line x1="209.45" y1="36.75" x2="230.15" y2="16.05"/>
<line x1="211.29" y1="38.59" x2="231.99" y2="17.89"/>
<line x1="213.13" y1="40.43" x2="233.83" y2="19.73"/>
<line x1="214.97" y1="42.27" x2="235.67" y2="21.57"/>
<line x1="216.81" y1="44.11" x2="237.51" y2="23.41"/>
<line x1="218.65" y1="45.95" x2="239.35" y2="25.25"/>
<line x1="220.48" y1="47.78" x2="241.18" y2="27.08"/>
<line x1="222.32" y1="49.62" x2="243.02" y2="28.92"/>
</g>
<circle cx="224.4" cy="31.0" r="6.20" fill="none" stroke="#be1e2d" stroke-width="1.40"/>
<circle cx="163.7" cy="52.8" r="8.00" fill="#231f20"/>
<path d="M167.65 49.17 A5.36 5.36 0 0 1 160.07 56.75 Z" fill="#fff"/>
<line x1="163.86" y1="52.96" x2="160.66" y2="49.76" stroke="#fff" stroke-width="0.4" stroke-opacity="0.6"/>
<circle cx="250.0" cy="52.6" r="7.20" fill="#fff"/>
<clipPath id="c8"><circle cx="250.0" cy="52.6" r="6.00"/></clipPath>
<g clip-path="url(#c8)" stroke="#231f20" stroke-width="2.40">
<line x1="229.23" y1="53.43" x2="250.83" y2="31.83"/>
<line x1="232.55" y1="56.75" x2="254.15" y2="35.15"/>
<line x1="235.88" y1="60.08" x2="257.48" y2="38.48"/>
<line x1="239.20" y1="63.40" x2="260.80" y2="41.80"/>
<line x1="242.52" y1="66.72" x2="264.12" y2="45.12"/>
<line x1="245.85" y1="70.05" x2="267.45" y2="48.45"/>
<line x1="249.17" y1="73.37" x2="270.77" y2="51.77"/>
</g>
<circle cx="250.0" cy="52.6" r="6.00" fill="none" stroke="#231f20" stroke-width="2.40"/>
<circle cx="191.8" cy="77.0" r="8.00" fill="#be1e2d"/>
<path d="M195.75 73.37 A5.36 5.36 0 0 1 188.17 80.95 Z" fill="#fff"/>
<line x1="191.96" y1="77.16" x2="188.76" y2="73.96" stroke="#fff" stroke-width="0.4" stroke-opacity="0.6"/>
<circle cx="222.1" cy="76.1" r="7.20" fill="#fff"/>
<clipPath id="c10"><circle cx="222.1" cy="76.1" r="6.20"/></clipPath>
<g clip-path="url(#c10)" stroke="#be1e2d" stroke-width="2.05">
<line x1="204.05" y1="79.65" x2="225.65" y2="58.05"/>
<line x1="206.95" y1="82.55" x2="228.55" y2="60.95"/>
<line x1="209.85" y1="85.45" x2="231.45" y2="63.85"/>
<line x1="212.75" y1="88.35" x2="234.35" y2="66.75"/>
<line x1="215.65" y1="91.25" x2="237.25" y2="69.65"/>
<line x1="218.55" y1="94.15" x2="240.15" y2="72.55"/>
<line x1="221.45" y1="97.05" x2="243.05" y2="75.45"/>
</g>
<circle cx="222.1" cy="76.1" r="6.20" fill="none" stroke="#be1e2d" stroke-width="2.00"/>
<circle cx="151.1" cy="92.4" r="8.00" fill="#231f20"/>
<path d="M155.05 88.77 A5.36 5.36 0 0 1 147.47 96.35 Z" fill="#fff"/>
<line x1="151.26" y1="92.56" x2="148.06" y2="89.36" stroke="#fff" stroke-width="0.4" stroke-opacity="0.6"/>
<circle cx="262.0" cy="92.4" r="7.20" fill="#fff"/>
<clipPath id="c12"><circle cx="262.0" cy="92.4" r="6.00"/></clipPath>
<g clip-path="url(#c12)" stroke="#231f20" stroke-width="2.40">
<line x1="241.23" y1="93.23" x2="262.83" y2="71.63"/>
<line x1="244.55" y1="96.55" x2="266.15" y2="74.95"/>
<line x1="247.88" y1="99.88" x2="269.48" y2="78.28"/>
<line x1="251.20" y1="103.20" x2="272.80" y2="81.60"/>
<line x1="254.52" y1="106.52" x2="276.12" y2="84.92"/>
<line x1="257.85" y1="109.85" x2="279.45" y2="88.25"/>
<line x1="261.17" y1="113.17" x2="282.77" y2="91.57"/>
</g>
<circle cx="262.0" cy="92.4" r="6.00" fill="none" stroke="#231f20" stroke-width="2.40"/>
<circle cx="222.1" cy="118.2" r="8.00" fill="#be1e2d"/>
<path d="M226.05 114.57 A5.36 5.36 0 0 1 218.47 122.15 Z" fill="#fff"/>
<line x1="222.26" y1="118.36" x2="219.06" y2="115.16" stroke="#fff" stroke-width="0.4" stroke-opacity="0.6"/>
<circle cx="191.8" cy="117.8" r="8.0" fill="#be1e2d"/>
<circle cx="150.7" cy="140.5" r="8.00" fill="#231f20"/>
<path d="M154.65 136.87 A5.36 5.36 0 0 1 147.07 144.45 Z" fill="#fff"/>
<line x1="150.86" y1="140.66" x2="147.66" y2="137.46" stroke="#fff" stroke-width="0.4" stroke-opacity="0.6"/>
<circle cx="261.3" cy="142.6" r="7.20" fill="#fff"/>
<clipPath id="c16"><circle cx="261.3" cy="142.6" r="6.00"/></clipPath>
<g clip-path="url(#c16)" stroke="#231f20" stroke-width="2.40">
<line x1="240.53" y1="143.43" x2="262.13" y2="121.83"/>
<line x1="243.85" y1="146.75" x2="265.45" y2="125.15"/>
<line x1="247.18" y1="150.08" x2="268.78" y2="128.48"/>
<line x1="250.50" y1="153.40" x2="272.10" y2="131.80"/>
<line x1="253.82" y1="156.72" x2="275.42" y2="135.12"/>
<line x1="257.15" y1="160.05" x2="278.75" y2="138.45"/>
<line x1="260.47" y1="163.37" x2="282.07" y2="141.77"/>
</g>
<circle cx="261.3" cy="142.6" r="6.00" fill="none" stroke="#231f20" stroke-width="2.40"/>
<circle cx="192.2" cy="153.7" r="8.00" fill="#231f20"/>
<path d="M196.15 150.07 A5.36 5.36 0 0 1 188.57 157.65 Z" fill="#fff"/>
<line x1="192.36" y1="153.86" x2="189.16" y2="150.66" stroke="#fff" stroke-width="0.4" stroke-opacity="0.6"/>
<circle cx="221.3" cy="153.8" r="7.20" fill="#fff"/>
<clipPath id="c18"><circle cx="221.3" cy="153.8" r="6.00"/></clipPath>
<g clip-path="url(#c18)" stroke="#231f20" stroke-width="2.40">
<line x1="200.53" y1="154.63" x2="222.13" y2="133.03"/>
<line x1="203.85" y1="157.95" x2="225.45" y2="136.35"/>
<line x1="207.18" y1="161.28" x2="228.78" y2="139.68"/>
<line x1="210.50" y1="164.60" x2="232.10" y2="143.00"/>
<line x1="213.82" y1="167.92" x2="235.42" y2="146.32"/>
<line x1="217.15" y1="171.25" x2="238.75" y2="149.65"/>
<line x1="220.47" y1="174.57" x2="242.07" y2="152.97"/>
</g>
<circle cx="221.3" cy="153.8" r="6.00" fill="none" stroke="#231f20" stroke-width="2.40"/>
<circle cx="162.3" cy="175.1" r="8.00" fill="#be1e2d"/>
<path d="M166.25 171.47 A5.36 5.36 0 0 1 158.67 179.05 Z" fill="#fff"/>
<line x1="162.46" y1="175.26" x2="159.26" y2="172.06" stroke="#fff" stroke-width="0.4" stroke-opacity="0.6"/>
<circle cx="251.7" cy="175.2" r="7.20" fill="#fff"/>
<clipPath id="c20"><circle cx="251.7" cy="175.2" r="6.00"/></clipPath>
<g clip-path="url(#c20)" stroke="#231f20" stroke-width="2.40">
<line x1="230.93" y1="176.03" x2="252.53" y2="154.43"/>
<line x1="234.25" y1="179.35" x2="255.85" y2="157.75"/>
<line x1="237.58" y1="182.68" x2="259.18" y2="161.08"/>
<line x1="240.90" y1="186.00" x2="262.50" y2="164.40"/>
<line x1="244.22" y1="189.32" x2="265.82" y2="167.72"/>
<line x1="247.55" y1="192.65" x2="269.15" y2="171.05"/>
<line x1="250.87" y1="195.97" x2="272.47" y2="174.37"/>
</g>
<circle cx="251.7" cy="175.2" r="6.00" fill="none" stroke="#231f20" stroke-width="2.40"/>
<circle cx="189.2" cy="194.9" r="7.20" fill="#fff"/>
<clipPath id="c21"><circle cx="189.2" cy="194.9" r="6.00"/></clipPath>
<g clip-path="url(#c21)" stroke="#231f20" stroke-width="2.40">
<line x1="168.43" y1="195.73" x2="190.03" y2="174.13"/>
<line x1="171.75" y1="199.05" x2="193.35" y2="177.45"/>
<line x1="175.08" y1="202.38" x2="196.68" y2="180.78"/>
<line x1="178.40" y1="205.70" x2="200.00" y2="184.10"/>
<line x1="181.72" y1="209.02" x2="203.32" y2="187.42"/>
<line x1="185.05" y1="212.35" x2="206.65" y2="190.75"/>
<line x1="188.37" y1="215.67" x2="209.97" y2="194.07"/>
</g>
<circle cx="189.2" cy="194.9" r="6.00" fill="none" stroke="#231f20" stroke-width="2.40"/>
<circle cx="225.1" cy="195.5" r="6.90" fill="#fff"/>
<clipPath id="c22"><circle cx="225.1" cy="195.5" r="6.20"/></clipPath>
<g clip-path="url(#c22)" stroke="#231f20" stroke-width="1.30">
<line x1="208.32" y1="199.42" x2="229.02" y2="178.72"/>
<line x1="210.15" y1="201.25" x2="230.85" y2="180.55"/>
<line x1="211.99" y1="203.09" x2="232.69" y2="182.39"/>
<line x1="213.83" y1="204.93" x2="234.53" y2="184.23"/>
<line x1="215.67" y1="206.77" x2="236.37" y2="186.07"/>
<line x1="217.51" y1="208.61" x2="238.21" y2="187.91"/>
<line x1="219.35" y1="210.45" x2="240.05" y2="189.75"/>
<line x1="221.18" y1="212.28" x2="241.88" y2="191.58"/>
<line x1="223.02" y1="214.12" x2="243.72" y2="193.42"/>
</g>
<circle cx="225.1" cy="195.5" r="6.20" fill="none" stroke="#231f20" stroke-width="1.40"/>
<path d="M41.8 233.8 H287.2" fill="none" stroke="#7355a0" stroke-width="1.2" stroke-dasharray="8.3 4.6" stroke-dashoffset="10.3"/>
<path d="M41.8 509.4 H287.2" fill="none" stroke="#7355a0" stroke-width="1.2" stroke-dasharray="8.7 4.3" stroke-dashoffset="0.65"/>
<path d="M33.8 241.8 V501.4" fill="none" stroke="#7355a0" stroke-width="1.2" stroke-dasharray="10 5.65" stroke-dashoffset="0.75"/>
<path d="M295.3 241.8 V501.4" fill="none" stroke="#7355a0" stroke-width="1.2" stroke-dasharray="10 5.65" stroke-dashoffset="0.75"/>
<path d="M33.8 241.8 Q33.8 233.8 41.8 233.8 M287.2 233.8 Q295.3 233.8 295.3 241.8 M295.3 501.4 Q295.3 509.4 287.2 509.4 M41.8 509.4 Q33.8 509.4 33.8 501.4" fill="none" stroke="#7355a0" stroke-width="1.2"/>
<path d="M295.3 359.9 L372.6 374.6" fill="none" stroke="#7355a0" stroke-width="1.2" stroke-dasharray="9.4 5.2" stroke-dashoffset="0"/>
<path d="M75.9 252.5 L75.9 474.6 L277.0 474.6" fill="none" stroke="#222" stroke-width="0.9"/>
<line x1="75.9" y1="252.5" x2="78.1" y2="252.5" stroke="#222" stroke-width="0.8"/>
<text x="71.9" y="256.3" font-size="10.80" text-anchor="end" fill="#333" >-4</text>
<line x1="75.9" y1="284.2" x2="78.1" y2="284.2" stroke="#222" stroke-width="0.8"/>
<text x="71.9" y="288.0" font-size="10.80" text-anchor="end" fill="#333" >-3</text>
<line x1="75.9" y1="316.0" x2="78.1" y2="316.0" stroke="#222" stroke-width="0.8"/>
<text x="71.9" y="319.8" font-size="10.80" text-anchor="end" fill="#333" >-2</text>
<line x1="75.9" y1="347.7" x2="78.1" y2="347.7" stroke="#222" stroke-width="0.8"/>
<text x="71.9" y="351.5" font-size="10.80" text-anchor="end" fill="#333" >-1</text>
<line x1="75.9" y1="379.4" x2="78.1" y2="379.4" stroke="#222" stroke-width="0.8"/>
<text x="71.9" y="383.2" font-size="10.80" text-anchor="end" fill="#333" >0</text>
<line x1="75.9" y1="411.1" x2="78.1" y2="411.1" stroke="#222" stroke-width="0.8"/>
<text x="71.9" y="414.9" font-size="10.80" text-anchor="end" fill="#333" >1</text>
<line x1="75.9" y1="442.8" x2="78.1" y2="442.8" stroke="#222" stroke-width="0.8"/>
<text x="71.9" y="446.6" font-size="10.80" text-anchor="end" fill="#333" >2</text>
<line x1="75.9" y1="474.6" x2="78.1" y2="474.6" stroke="#222" stroke-width="0.8"/>
<text x="71.9" y="478.4" font-size="10.80" text-anchor="end" fill="#333" >3</text>
<line x1="108.9" y1="474.6" x2="108.9" y2="472.0" stroke="#222" stroke-width="0.8"/>
<text x="112.2" y="486.8" font-size="13.05" text-anchor="middle" fill="#5a5a5a" >Primary</text>
<line x1="176.3" y1="474.6" x2="176.3" y2="472.0" stroke="#222" stroke-width="0.8"/>
<text x="177.1" y="486.8" font-size="13.05" text-anchor="middle" fill="#5a5a5a" >Secondary</text>
<text x="241.6" y="486.8" font-size="13.05" text-anchor="middle" fill="#5a5a5a" >Tertiary</text>
<text x="182.0" y="502.6" font-size="14.05" text-anchor="middle" fill="#000" >Connection type</text>
<text x="56.0" y="371.0" font-size="14.00" text-anchor="middle" transform="rotate(-90 56.0 371.0)" fill="#000" >Connection abnormality</text>
<text x="176.2" y="252.8" font-size="15.80" text-anchor="middle" fill="#111" >Patient 6</text>
<text x="290.2" y="315.4" font-size="10.00" text-anchor="start" transform="rotate(-90 290.2 315.4)" fill="#b5202e" >Abnormal</text>
<text x="290.2" y="352.6" font-size="10.00" text-anchor="start" transform="rotate(-90 290.2 352.6)" fill="#333" >Normal</text>
<clipPath id="vc1"><rect x="60" y="240" width="230" height="78.2"/></clipPath>
<path d="M104.40 265.30 C104.00 267.75 102.67 275.67 102.00 280.00 C101.33 284.33 100.92 287.13 100.40 291.30 C99.88 295.47 99.35 300.65 98.90 305.00 C98.45 309.35 98.33 312.90 97.70 317.40 C97.07 321.90 95.95 327.30 95.10 332.00 C94.25 336.70 93.47 340.30 92.60 345.60 C91.73 350.90 90.50 358.90 89.90 363.80 C89.30 368.70 89.18 371.97 89.00 375.00 C88.82 378.03 88.68 379.17 88.80 382.00 C88.92 384.83 89.32 389.00 89.70 392.00 C90.08 395.00 90.40 397.00 91.10 400.00 C91.80 403.00 92.98 406.97 93.90 410.00 C94.82 413.03 95.73 415.70 96.60 418.20 C97.47 420.70 98.22 422.78 99.10 425.00 C99.98 427.22 101.43 430.42 101.90 431.50 L115.90 431.50 C116.37 430.42 117.82 427.22 118.70 425.00 C119.58 422.78 120.33 420.70 121.20 418.20 C122.07 415.70 122.98 413.03 123.90 410.00 C124.82 406.97 126.00 403.00 126.70 400.00 C127.40 397.00 127.72 395.00 128.10 392.00 C128.48 389.00 128.88 384.83 129.00 382.00 C129.12 379.17 128.98 378.03 128.80 375.00 C128.62 371.97 128.50 368.70 127.90 363.80 C127.30 358.90 126.07 350.90 125.20 345.60 C124.33 340.30 123.55 336.70 122.70 332.00 C121.85 327.30 120.73 321.90 120.10 317.40 C119.47 312.90 119.35 309.35 118.90 305.00 C118.45 300.65 117.92 295.47 117.40 291.30 C116.88 287.13 116.47 284.33 115.80 280.00 C115.13 275.67 113.80 267.75 113.40 265.30 Z" fill="#fff" stroke="#222" stroke-width="0.8"/>
<path d="M104.40 265.30 C104.00 267.75 102.67 275.67 102.00 280.00 C101.33 284.33 100.92 287.13 100.40 291.30 C99.88 295.47 99.35 300.65 98.90 305.00 C98.45 309.35 98.33 312.90 97.70 317.40 C97.07 321.90 95.95 327.30 95.10 332.00 C94.25 336.70 93.47 340.30 92.60 345.60 C91.73 350.90 90.50 358.90 89.90 363.80 C89.30 368.70 89.18 371.97 89.00 375.00 C88.82 378.03 88.68 379.17 88.80 382.00 C88.92 384.83 89.32 389.00 89.70 392.00 C90.08 395.00 90.40 397.00 91.10 400.00 C91.80 403.00 92.98 406.97 93.90 410.00 C94.82 413.03 95.73 415.70 96.60 418.20 C97.47 420.70 98.22 422.78 99.10 425.00 C99.98 427.22 101.43 430.42 101.90 431.50 L115.90 431.50 C116.37 430.42 117.82 427.22 118.70 425.00 C119.58 422.78 120.33 420.70 121.20 418.20 C122.07 415.70 122.98 413.03 123.90 410.00 C124.82 406.97 126.00 403.00 126.70 400.00 C127.40 397.00 127.72 395.00 128.10 392.00 C128.48 389.00 128.88 384.83 129.00 382.00 C129.12 379.17 128.98 378.03 128.80 375.00 C128.62 371.97 128.50 368.70 127.90 363.80 C127.30 358.90 126.07 350.90 125.20 345.60 C124.33 340.30 123.55 336.70 122.70 332.00 C121.85 327.30 120.73 321.90 120.10 317.40 C119.47 312.90 119.35 309.35 118.90 305.00 C118.45 300.65 117.92 295.47 117.40 291.30 C116.88 287.13 116.47 284.33 115.80 280.00 C115.13 275.67 113.80 267.75 113.40 265.30 Z" fill="#be1e2d" stroke="#be1e2d" stroke-width="0.9" clip-path="url(#vc1)"/>
<clipPath id="vc2"><rect x="60" y="240" width="230" height="78.2"/></clipPath>
<path d="M176.10 270.00 C175.88 272.50 175.28 280.00 174.80 285.00 C174.32 290.00 173.77 294.47 173.20 300.00 C172.63 305.53 171.75 313.87 171.40 318.20 C171.05 322.53 171.48 323.37 171.10 326.00 C170.72 328.63 170.27 330.67 169.10 334.00 C167.93 337.33 165.93 341.67 164.10 346.00 C162.27 350.33 159.63 355.33 158.10 360.00 C156.57 364.67 155.58 370.00 154.90 374.00 C154.22 378.00 154.00 380.33 154.00 384.00 C154.00 387.67 154.08 391.67 154.90 396.00 C155.72 400.33 157.33 405.33 158.90 410.00 C160.47 414.67 162.60 419.33 164.30 424.00 C166.00 428.67 167.73 433.67 169.10 438.00 C170.47 442.33 171.60 446.33 172.50 450.00 C173.40 453.67 173.98 456.85 174.50 460.00 C175.02 463.15 175.42 467.42 175.60 468.90 L177.00 468.90 C177.18 467.42 177.58 463.15 178.10 460.00 C178.62 456.85 179.20 453.67 180.10 450.00 C181.00 446.33 182.13 442.33 183.50 438.00 C184.87 433.67 186.60 428.67 188.30 424.00 C190.00 419.33 192.13 414.67 193.70 410.00 C195.27 405.33 196.88 400.33 197.70 396.00 C198.52 391.67 198.60 387.67 198.60 384.00 C198.60 380.33 198.38 378.00 197.70 374.00 C197.02 370.00 196.03 364.67 194.50 360.00 C192.97 355.33 190.33 350.33 188.50 346.00 C186.67 341.67 184.67 337.33 183.50 334.00 C182.33 330.67 181.88 328.63 181.50 326.00 C181.12 323.37 181.55 322.53 181.20 318.20 C180.85 313.87 179.97 305.53 179.40 300.00 C178.83 294.47 178.28 290.00 177.80 285.00 C177.32 280.00 176.72 272.50 176.50 270.00 Z" fill="#fff" stroke="#222" stroke-width="0.8"/>
<path d="M176.10 270.00 C175.88 272.50 175.28 280.00 174.80 285.00 C174.32 290.00 173.77 294.47 173.20 300.00 C172.63 305.53 171.75 313.87 171.40 318.20 C171.05 322.53 171.48 323.37 171.10 326.00 C170.72 328.63 170.27 330.67 169.10 334.00 C167.93 337.33 165.93 341.67 164.10 346.00 C162.27 350.33 159.63 355.33 158.10 360.00 C156.57 364.67 155.58 370.00 154.90 374.00 C154.22 378.00 154.00 380.33 154.00 384.00 C154.00 387.67 154.08 391.67 154.90 396.00 C155.72 400.33 157.33 405.33 158.90 410.00 C160.47 414.67 162.60 419.33 164.30 424.00 C166.00 428.67 167.73 433.67 169.10 438.00 C170.47 442.33 171.60 446.33 172.50 450.00 C173.40 453.67 173.98 456.85 174.50 460.00 C175.02 463.15 175.42 467.42 175.60 468.90 L177.00 468.90 C177.18 467.42 177.58 463.15 178.10 460.00 C178.62 456.85 179.20 453.67 180.10 450.00 C181.00 446.33 182.13 442.33 183.50 438.00 C184.87 433.67 186.60 428.67 188.30 424.00 C190.00 419.33 192.13 414.67 193.70 410.00 C195.27 405.33 196.88 400.33 197.70 396.00 C198.52 391.67 198.60 387.67 198.60 384.00 C198.60 380.33 198.38 378.00 197.70 374.00 C197.02 370.00 196.03 364.67 194.50 360.00 C192.97 355.33 190.33 350.33 188.50 346.00 C186.67 341.67 184.67 337.33 183.50 334.00 C182.33 330.67 181.88 328.63 181.50 326.00 C181.12 323.37 181.55 322.53 181.20 318.20 C180.85 313.87 179.97 305.53 179.40 300.00 C178.83 294.47 178.28 290.00 177.80 285.00 C177.32 280.00 176.72 272.50 176.50 270.00 Z" fill="#be1e2d" stroke="#be1e2d" stroke-width="0.9" clip-path="url(#vc2)"/>
<clipPath id="vc3"><rect x="60" y="240" width="230" height="78.2"/></clipPath>
<path d="M240.50 309.50 C240.35 310.95 239.98 315.22 239.60 318.20 C239.22 321.18 238.88 324.60 238.20 327.40 C237.52 330.20 236.72 332.30 235.50 335.00 C234.28 337.70 232.40 340.77 230.90 343.60 C229.40 346.43 227.85 349.30 226.50 352.00 C225.15 354.70 223.72 357.13 222.80 359.80 C221.88 362.47 221.37 365.57 221.00 368.00 C220.63 370.43 220.47 372.07 220.60 374.40 C220.73 376.73 220.88 379.03 221.80 382.00 C222.72 384.97 224.82 389.20 226.10 392.20 C227.38 395.20 228.48 397.30 229.50 400.00 C230.52 402.70 231.33 405.73 232.20 408.40 C233.07 411.07 233.92 413.30 234.70 416.00 C235.48 418.70 236.23 421.93 236.90 424.60 C237.57 427.27 238.12 429.30 238.70 432.00 C239.27 434.70 239.93 438.13 240.35 440.80 C240.77 443.47 240.99 445.80 241.20 448.00 C241.41 450.20 241.53 453.00 241.60 454.00 L244.60 454.00 C244.67 453.00 244.79 450.20 245.00 448.00 C245.21 445.80 245.43 443.47 245.85 440.80 C246.27 438.13 246.93 434.70 247.50 432.00 C248.07 429.30 248.63 427.27 249.30 424.60 C249.97 421.93 250.72 418.70 251.50 416.00 C252.28 413.30 253.13 411.07 254.00 408.40 C254.87 405.73 255.68 402.70 256.70 400.00 C257.72 397.30 258.82 395.20 260.10 392.20 C261.38 389.20 263.48 384.97 264.40 382.00 C265.32 379.03 265.47 376.73 265.60 374.40 C265.73 372.07 265.57 370.43 265.20 368.00 C264.83 365.57 264.32 362.47 263.40 359.80 C262.48 357.13 261.05 354.70 259.70 352.00 C258.35 349.30 256.80 346.43 255.30 343.60 C253.80 340.77 251.92 337.70 250.70 335.00 C249.48 332.30 248.68 330.20 248.00 327.40 C247.32 324.60 246.98 321.18 246.60 318.20 C246.22 315.22 245.85 310.95 245.70 309.50 Z" fill="#fff" stroke="#222" stroke-width="0.8"/>
<path d="M240.50 309.50 C240.35 310.95 239.98 315.22 239.60 318.20 C239.22 321.18 238.88 324.60 238.20 327.40 C237.52 330.20 236.72 332.30 235.50 335.00 C234.28 337.70 232.40 340.77 230.90 343.60 C229.40 346.43 227.85 349.30 226.50 352.00 C225.15 354.70 223.72 357.13 222.80 359.80 C221.88 362.47 221.37 365.57 221.00 368.00 C220.63 370.43 220.47 372.07 220.60 374.40 C220.73 376.73 220.88 379.03 221.80 382.00 C222.72 384.97 224.82 389.20 226.10 392.20 C227.38 395.20 228.48 397.30 229.50 400.00 C230.52 402.70 231.33 405.73 232.20 408.40 C233.07 411.07 233.92 413.30 234.70 416.00 C235.48 418.70 236.23 421.93 236.90 424.60 C237.57 427.27 238.12 429.30 238.70 432.00 C239.27 434.70 239.93 438.13 240.35 440.80 C240.77 443.47 240.99 445.80 241.20 448.00 C241.41 450.20 241.53 453.00 241.60 454.00 L244.60 454.00 C244.67 453.00 244.79 450.20 245.00 448.00 C245.21 445.80 245.43 443.47 245.85 440.80 C246.27 438.13 246.93 434.70 247.50 432.00 C248.07 429.30 248.63 427.27 249.30 424.60 C249.97 421.93 250.72 418.70 251.50 416.00 C252.28 413.30 253.13 411.07 254.00 408.40 C254.87 405.73 255.68 402.70 256.70 400.00 C257.72 397.30 258.82 395.20 260.10 392.20 C261.38 389.20 263.48 384.97 264.40 382.00 C265.32 379.03 265.47 376.73 265.60 374.40 C265.73 372.07 265.57 370.43 265.20 368.00 C264.83 365.57 264.32 362.47 263.40 359.80 C262.48 357.13 261.05 354.70 259.70 352.00 C258.35 349.30 256.80 346.43 255.30 343.60 C253.80 340.77 251.92 337.70 250.70 335.00 C249.48 332.30 248.68 330.20 248.00 327.40 C247.32 324.60 246.98 321.18 246.60 318.20 C246.22 315.22 245.85 310.95 245.70 309.50 Z" fill="#be1e2d" stroke="#be1e2d" stroke-width="0.9" clip-path="url(#vc3)"/>
<line x1="75.9" y1="318.2" x2="272" y2="318.2" stroke="#a6a6a6" stroke-width="0.8" stroke-dasharray="9 4.5"/>
<line x1="373.2" y1="415.5" x2="775" y2="415.5" stroke="#cfcfcf" stroke-width="0.9" stroke-dasharray="10.6 5.4"/>
<line x1="373.2" y1="358.2" x2="775" y2="358.2" stroke="#cfcfcf" stroke-width="0.9" stroke-dasharray="10.6 5.4"/>
<line x1="373.2" y1="300.8" x2="775" y2="300.8" stroke="#cfcfcf" stroke-width="0.9" stroke-dasharray="10.6 5.4"/>
<line x1="373.2" y1="243.5" x2="775" y2="243.5" stroke="#cfcfcf" stroke-width="0.9" stroke-dasharray="10.6 5.4"/>
<line x1="373.2" y1="186.2" x2="775" y2="186.2" stroke="#cfcfcf" stroke-width="0.9" stroke-dasharray="10.6 5.4"/>
<line x1="373.2" y1="128.9" x2="775" y2="128.9" stroke="#cfcfcf" stroke-width="0.9" stroke-dasharray="10.6 5.4"/>
<line x1="373.2" y1="71.6" x2="775" y2="71.6" stroke="#cfcfcf" stroke-width="0.9" stroke-dasharray="10.6 5.4"/>
<rect x="533.0" y="0" width="293" height="239" fill="#fff"/>
<path d="M362.6 71.6 L362.6 472.8 L775.4 472.8" fill="none" stroke="#5e5e5e" stroke-width="0.9"/>
<line x1="362.6" y1="472.8" x2="367.2" y2="472.8" stroke="#5e5e5e" stroke-width="0.8"/>
<text x="347.0" y="477.3" font-size="12.80" text-anchor="middle" fill="#5c5c5c" >0</text>
<line x1="362.6" y1="415.5" x2="367.2" y2="415.5" stroke="#5e5e5e" stroke-width="0.8"/>
<text x="347.0" y="420.0" font-size="12.80" text-anchor="middle" fill="#5c5c5c" >0.1</text>
<line x1="362.6" y1="358.2" x2="367.2" y2="358.2" stroke="#5e5e5e" stroke-width="0.8"/>
<text x="347.0" y="362.7" font-size="12.80" text-anchor="middle" fill="#5c5c5c" >0.2</text>
<line x1="362.6" y1="300.8" x2="367.2" y2="300.8" stroke="#5e5e5e" stroke-width="0.8"/>
<text x="347.0" y="305.3" font-size="12.80" text-anchor="middle" fill="#5c5c5c" >0.3</text>
<line x1="362.6" y1="243.5" x2="367.2" y2="243.5" stroke="#5e5e5e" stroke-width="0.8"/>
<text x="347.0" y="248.0" font-size="12.80" text-anchor="middle" fill="#5c5c5c" >0.4</text>
<line x1="362.6" y1="186.2" x2="367.2" y2="186.2" stroke="#5e5e5e" stroke-width="0.8"/>
<text x="347.0" y="190.7" font-size="12.80" text-anchor="middle" fill="#5c5c5c" >0.5</text>
<line x1="362.6" y1="128.9" x2="367.2" y2="128.9" stroke="#5e5e5e" stroke-width="0.8"/>
<text x="347.0" y="133.4" font-size="12.80" text-anchor="middle" fill="#5c5c5c" >0.6</text>
<line x1="362.6" y1="71.6" x2="367.2" y2="71.6" stroke="#5e5e5e" stroke-width="0.8"/>
<text x="347.0" y="76.1" font-size="12.80" text-anchor="middle" fill="#5c5c5c" >0.7</text>
<line x1="373.0" y1="472.8" x2="373.0" y2="467.8" stroke="#5e5e5e" stroke-width="0.8"/>
<text x="372.0" y="491.8" font-size="12.90" text-anchor="middle" fill="#5c5c5c" >Primary</text>
<line x1="506.8" y1="472.8" x2="506.8" y2="467.8" stroke="#5e5e5e" stroke-width="0.8"/>
<text x="512.2" y="491.8" font-size="12.90" text-anchor="middle" fill="#5c5c5c" >Secondary</text>
<line x1="640.5" y1="472.8" x2="640.5" y2="467.8" stroke="#5e5e5e" stroke-width="0.8"/>
<text x="644.9" y="491.8" font-size="12.90" text-anchor="middle" fill="#5c5c5c" >Tertiary</text>
<line x1="774.2" y1="472.8" x2="774.2" y2="467.8" stroke="#5e5e5e" stroke-width="0.8"/>
<text x="771.5" y="491.8" font-size="12.90" text-anchor="middle" fill="#5c5c5c" >Quaternary</text>
<text x="590.0" y="511.6" font-size="13.80" text-anchor="middle" fill="#000" >Connection type</text>
<text x="329.0" y="222.5" font-size="14.20" text-anchor="middle" transform="rotate(-90 329.0 222.5)" fill="#000" >Proportion of abnormal connections</text>
<polyline points="373.0,114.8 506.8,290.3 640.5,374.6" fill="none" stroke="#767676" stroke-width="1.9" stroke-linejoin="round"/>
<polyline points="373.0,172.7 506.8,211.9 640.5,285.0 774.2,367.5" fill="none" stroke="#767676" stroke-width="1.9" stroke-linejoin="round"/>
<polyline points="373.0,210.9 506.8,273.9 640.5,289.6" fill="none" stroke="#767676" stroke-width="1.9" stroke-linejoin="round"/>
<polyline points="373.0,288.8 506.8,385.0 640.5,438.1 774.2,472.7" fill="none" stroke="#767676" stroke-width="1.9" stroke-linejoin="round"/>
<polyline points="373.0,367.5 506.8,410.5 640.5,452.4" fill="none" stroke="#767676" stroke-width="1.9" stroke-linejoin="round"/>
<polyline points="373.0,424.4 506.8,414.4 640.5,414.2 774.2,371.8" fill="none" stroke="#767676" stroke-width="1.9" stroke-linejoin="round"/>
<polyline points="373.0,453.1 506.8,424.6 640.5,458.5 774.2,472.7" fill="none" stroke="#767676" stroke-width="1.9" stroke-linejoin="round"/>
<polyline points="373.0,439.0 506.8,441.0 640.5,462.2" fill="none" stroke="#767676" stroke-width="1.9" stroke-linejoin="round"/>
<polyline points="373.0,433.9 506.8,463.3 640.5,468.6" fill="none" stroke="#767676" stroke-width="1.9" stroke-linejoin="round"/>
<polyline points="373.0,436.2 506.8,465.5 640.5,471.2 774.2,472.7" fill="none" stroke="#767676" stroke-width="1.9" stroke-linejoin="round"/>
<polyline points="373.0,374.4 506.8,453.6 640.5,465.6" fill="none" stroke="#6a3d8c" stroke-width="2.9" stroke-linejoin="round"/>
<circle cx="373.0" cy="114.8" r="3.55" fill="none" stroke="#666" stroke-width="0.9"/>
<circle cx="506.8" cy="290.3" r="3.55" fill="none" stroke="#666" stroke-width="0.9"/>
<circle cx="640.5" cy="374.6" r="3.55" fill="none" stroke="#666" stroke-width="0.9"/>
<circle cx="373.0" cy="172.7" r="3.55" fill="none" stroke="#666" stroke-width="0.9"/>
<circle cx="506.8" cy="211.9" r="3.55" fill="none" stroke="#666" stroke-width="0.9"/>
<circle cx="640.5" cy="285.0" r="3.55" fill="none" stroke="#666" stroke-width="0.9"/>
<circle cx="774.2" cy="367.5" r="3.55" fill="none" stroke="#666" stroke-width="0.9"/>
<circle cx="373.0" cy="210.9" r="3.55" fill="none" stroke="#666" stroke-width="0.9"/>
<circle cx="506.8" cy="273.9" r="3.55" fill="none" stroke="#666" stroke-width="0.9"/>
<circle cx="640.5" cy="289.6" r="3.55" fill="none" stroke="#666" stroke-width="0.9"/>
<circle cx="373.0" cy="288.8" r="3.55" fill="none" stroke="#666" stroke-width="0.9"/>
<circle cx="506.8" cy="385.0" r="3.55" fill="none" stroke="#666" stroke-width="0.9"/>
<circle cx="640.5" cy="438.1" r="3.55" fill="none" stroke="#666" stroke-width="0.9"/>
<circle cx="774.2" cy="472.7" r="3.55" fill="none" stroke="#666" stroke-width="0.9"/>
<circle cx="373.0" cy="367.5" r="3.55" fill="none" stroke="#666" stroke-width="0.9"/>
<circle cx="506.8" cy="410.5" r="3.55" fill="none" stroke="#666" stroke-width="0.9"/>
<circle cx="640.5" cy="452.4" r="3.55" fill="none" stroke="#666" stroke-width="0.9"/>
<circle cx="373.0" cy="424.4" r="3.55" fill="none" stroke="#666" stroke-width="0.9"/>
<circle cx="506.8" cy="414.4" r="3.55" fill="none" stroke="#666" stroke-width="0.9"/>
<circle cx="640.5" cy="414.2" r="3.55" fill="none" stroke="#666" stroke-width="0.9"/>
<circle cx="774.2" cy="371.8" r="3.55" fill="none" stroke="#666" stroke-width="0.9"/>
<circle cx="373.0" cy="453.1" r="3.55" fill="none" stroke="#666" stroke-width="0.9"/>
<circle cx="506.8" cy="424.6" r="3.55" fill="none" stroke="#666" stroke-width="0.9"/>
<circle cx="640.5" cy="458.5" r="3.55" fill="none" stroke="#666" stroke-width="0.9"/>
<circle cx="774.2" cy="472.7" r="3.55" fill="none" stroke="#666" stroke-width="0.9"/>
<circle cx="373.0" cy="439.0" r="3.55" fill="none" stroke="#666" stroke-width="0.9"/>
<circle cx="506.8" cy="441.0" r="3.55" fill="none" stroke="#666" stroke-width="0.9"/>
<circle cx="640.5" cy="462.2" r="3.55" fill="none" stroke="#666" stroke-width="0.9"/>
<circle cx="373.0" cy="433.9" r="3.55" fill="none" stroke="#666" stroke-width="0.9"/>
<circle cx="506.8" cy="463.3" r="3.55" fill="none" stroke="#666" stroke-width="0.9"/>
<circle cx="640.5" cy="468.6" r="3.55" fill="none" stroke="#666" stroke-width="0.9"/>
<circle cx="373.0" cy="436.2" r="3.55" fill="none" stroke="#666" stroke-width="0.9"/>
<circle cx="506.8" cy="465.5" r="3.55" fill="none" stroke="#666" stroke-width="0.9"/>
<circle cx="640.5" cy="471.2" r="3.55" fill="none" stroke="#666" stroke-width="0.9"/>
<circle cx="774.2" cy="472.7" r="3.55" fill="none" stroke="#666" stroke-width="0.9"/>
<circle cx="373.0" cy="374.4" r="3.55" fill="none" stroke="#666" stroke-width="0.9"/>
<circle cx="506.8" cy="453.6" r="3.55" fill="none" stroke="#666" stroke-width="0.9"/>
<circle cx="640.5" cy="465.6" r="3.55" fill="none" stroke="#666" stroke-width="0.9"/>
<path d="M594.8 28.6 L594.8 197.2 L795 197.2" fill="none" stroke="#262626" stroke-width="0.95"/>
<line x1="591.4" y1="42.8" x2="594.8" y2="42.8" stroke="#333" stroke-width="0.9"/>
<text x="587.0" y="47.5" font-size="12.90" text-anchor="end" fill="#555" >−1.2</text>
<line x1="591.4" y1="91.6" x2="594.8" y2="91.6" stroke="#333" stroke-width="0.9"/>
<text x="587.0" y="96.3" font-size="12.90" text-anchor="end" fill="#555" >−0.8</text>
<line x1="591.4" y1="140.4" x2="594.8" y2="140.4" stroke="#333" stroke-width="0.9"/>
<text x="587.0" y="145.1" font-size="12.90" text-anchor="end" fill="#555" >−0.4</text>
<line x1="591.4" y1="189.2" x2="594.8" y2="189.2" stroke="#333" stroke-width="0.9"/>
<text x="587.0" y="193.9" font-size="12.90" text-anchor="end" fill="#555" >0.0</text>
<rect x="602.1" y="70.7" width="43" height="118.5" fill="#020208"/>
<rect x="650.1" y="116.0" width="43" height="73.2" fill="#020208"/>
<rect x="697.6" y="140.8" width="43" height="48.4" fill="#020208"/>
<rect x="745.4" y="155.2" width="43" height="34.0" fill="#020208"/>
<line x1="594.8" y1="189.2" x2="795" y2="189.2" stroke="#111" stroke-width="1.5"/>
<line x1="623.6" y1="197.2" x2="623.6" y2="200.4" stroke="#333" stroke-width="0.9"/>
<line x1="671.6" y1="197.2" x2="671.6" y2="200.4" stroke="#333" stroke-width="0.9"/>
<line x1="719.1" y1="197.2" x2="719.1" y2="200.4" stroke="#333" stroke-width="0.9"/>
<line x1="766.9" y1="197.2" x2="766.9" y2="200.4" stroke="#333" stroke-width="0.9"/>
<text x="620.0" y="212.8" font-size="11.10" text-anchor="middle" fill="#555" >Primary</text>
<text x="669.8" y="212.8" font-size="11.10" text-anchor="middle" fill="#555" >Secondary</text>
<text x="718.4" y="212.8" font-size="11.10" text-anchor="middle" fill="#555" >Tertiary</text>
<text x="771.4" y="212.8" font-size="11.10" text-anchor="middle" fill="#555" >Quaternary</text>
<text x="696.2" y="233.2" font-size="14.30" text-anchor="middle" fill="#000" >Connection Type</text>
<text x="556.0" y="113.0" font-size="14.40" text-anchor="middle" transform="rotate(-90 556.0 113.0)" fill="#000" >Connection abnormality</text>
<path d="M619.2 40.8 H628.0 M623.6 40.8 V99.2 M619.2 99.2 H628.0" fill="none" stroke="#bdbdbd" stroke-width="1.4"/>
<path d="M667.2 84.5 H676.0 M671.6 84.5 V146.6 M667.2 146.6 H676.0" fill="none" stroke="#bdbdbd" stroke-width="1.4"/>
<path d="M714.7 106.5 H723.5 M719.1 106.5 V175.2 M714.7 175.2 H723.5" fill="none" stroke="#bdbdbd" stroke-width="1.4"/>
<path d="M762.5 114.6 H771.3 M766.9 114.6 V194.8 M762.5 194.8 H771.3" fill="none" stroke="#bdbdbd" stroke-width="1.4"/>
<path d="M623.4 40.6 V26.6 Q623.4 25.0 625.0 25.0 H765.8 Q767.4 25.0 767.4 26.6 V107.8" fill="none" stroke="#3a3a3a" stroke-width="0.9"/>
<path d="M623.4 40.6 V31.6 Q623.4 30.0 625.0 30.0 H719.2 V100.2" fill="none" stroke="#3a3a3a" stroke-width="0.9"/>
<path d="M623.4 40.6 V36.0 Q623.4 34.4 625.0 34.4 H671.9 V79.4" fill="none" stroke="#3a3a3a" stroke-width="0.9"/>
<text x="646.8" y="46.8" font-size="13.60" text-anchor="middle" font-weight="bold" fill="#111" >*</text>
<text x="692.8" y="41.1" font-size="13.60" text-anchor="middle" font-weight="bold" fill="#111" >*</text>
<text x="741.2" y="36.1" font-size="13.60" text-anchor="middle" font-weight="bold" fill="#111" >*</text>
<text transform="translate(8.90 28.75) scale(1 1.016)" x="0" y="0" font-size="22" font-weight="bold" fill="#1a1a1a" stroke="#1a1a1a" stroke-width="0.5">A</text>
<text transform="translate(9.60 268.80) scale(1 1.020)" x="0" y="0" font-size="22" font-weight="bold" fill="#1a1a1a" stroke="#1a1a1a" stroke-width="0.5">B</text>
<text transform="translate(345.20 29.70) scale(1 1.075)" x="0" y="0" font-size="22" font-weight="bold" fill="#1a1a1a" stroke="#1a1a1a" stroke-width="0.5">C</text>
<text transform="translate(534.60 27.95) scale(1 1.030)" x="0" y="0" font-size="22" font-weight="bold" fill="#1a1a1a" stroke="#1a1a1a" stroke-width="0.5">D</text>
</svg></body></html>
